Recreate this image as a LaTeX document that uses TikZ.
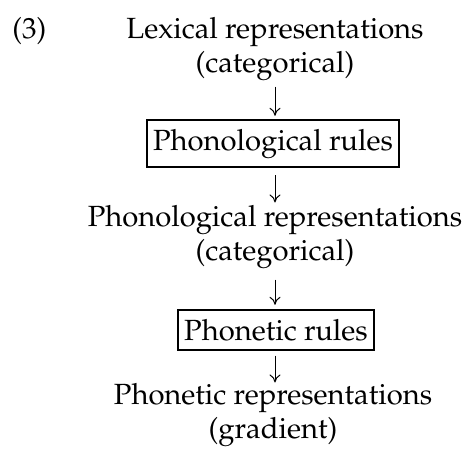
\documentclass[tikz,border=0pt]{standalone}
\usepackage[T1]{fontenc}
\usepackage{mathpazo}
\usetikzlibrary{arrows.meta}
\tikzset{
  level/.style={align=center, inner sep=0pt, font=\fontsize{14.6}{17}\selectfont},
  rulebox/.style={draw, line width=1.1pt, inner xsep=3pt, inner ysep=4.5pt, font=\fontsize{14.6}{17}\selectfont},
  flow/.style={line width=0.5pt, -{To[length=4pt,width=5.5pt]}}
}
\begin{document}
\begin{tikzpicture}[x=0.5pt, y=-0.5pt]
  \useasboundingbox (0,0) rectangle (465,456);
  \node[level, anchor=base west] (num) at (12,38) {(3)};
  \node[level, anchor=base] (lex) at (275,72) {Lexical representations\\(categorical)};
  \node[rulebox, anchor=base] (phonrules) at (273,150) {Phonological rules};
  \node[level, anchor=base] (phonrep) at (275,260) {Phonological representations\\(categorical)};
  \node[rulebox, anchor=base] (phetrules) at (276,340) {Phonetic rules};
  \node[level, anchor=base] (phetrep) at (273,438) {Phonetic representations\\(gradient)};
  % arrows between the levels
  \draw[flow, shorten <=3pt, shorten >=1.5pt] (lex.south) -- (lex.south |- phonrules.north);
  \draw[flow, shorten <=3.5pt, shorten >=1pt] (phonrules.south -| lex.south) -- (lex.south |- phonrep.north);
  \draw[flow, shorten <=5.5pt, shorten >=2pt] (phonrep.south) -- (phonrep.south |- phetrules.north);
  \draw[flow, shorten <=2.5pt, shorten >=0pt] (phetrules.south -| phonrep.south) -- (phonrep.south |- phetrep.north);
\end{tikzpicture}
\end{document}
